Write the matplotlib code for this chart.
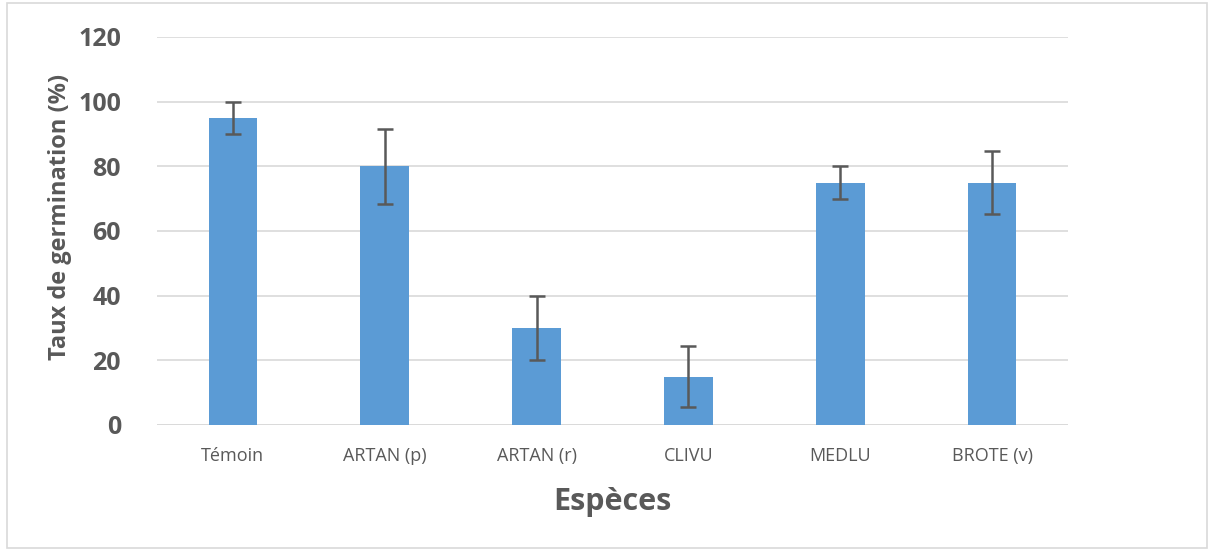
import numpy as np
import matplotlib.pyplot as plt
from matplotlib.patches import Rectangle

especes = ["Témoin", "ARTAN (p)", "ARTAN (r)", "CLIVU", "MEDLU", "BROTE (v)"]
taux = [95, 80, 30, 15, 75, 75]
erreurs = [5, 11.5, 10, 9.5, 5, 9.6]

plt.rcParams['font.family'] = ['Open Sans', 'DejaVu Sans']

fig = plt.figure(figsize=(12.13, 5.51), dpi=100)
ax = fig.add_axes([157 / 1213, 1 - 425 / 551, (1068 - 157) / 1213, (425 - 37) / 551])

r = np.arange(len(especes))
ax.bar(r, taux, width=0.32, color="#5B9BD5", zorder=2)
ax.errorbar(r, taux, yerr=erreurs, fmt="none", ecolor="#595959", elinewidth=1.8,
            capsize=6, capthick=1.8, zorder=3)

ax.set_xlim(-0.5, len(especes) - 0.5)
ax.set_ylim(0, 120)
ax.set_yticks(range(0, 121, 20))
ax.yaxis.grid(True, color="#D9D9D9", linewidth=1.2, zorder=0)
ax.set_axisbelow(True)
for s in ax.spines.values():
    s.set_visible(False)
ax.axhline(0, color="#D9D9D9", linewidth=1.2, zorder=1)
ax.tick_params(axis="both", length=0)
ax.tick_params(axis="y", pad=26, labelsize=18, labelcolor="#595959")
ax.tick_params(axis="x", pad=16, labelsize=13, labelcolor="#595959")
for t in ax.get_yticklabels():
    t.set_fontweight("bold")
ax.set_xticks(r)
ax.set_xticklabels(especes)

ax.set_ylabel("Taux de germination (%)", fontsize=17, fontweight="bold", color="#595959")
ax.yaxis.set_label_coords(-0.093, 0.535)
ax.set_xlabel("Espèces", fontsize=22, fontweight="bold", color="#595959", labelpad=16)

fig.patches.append(Rectangle((7 / 1213, 3 / 551), 1200 / 1213, 545 / 551, transform=fig.transFigure,
                             fill=False, edgecolor="#D9D9D9", linewidth=1.2))

fig.savefig("out.png", dpi=100)
